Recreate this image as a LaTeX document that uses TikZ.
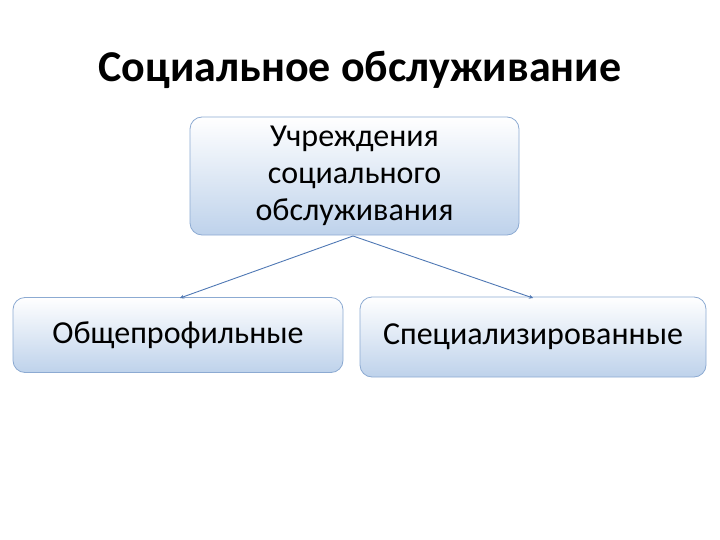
\documentclass[tikz,border=0pt]{standalone}
\usepackage{fontspec}
\setmainfont{Carlito}
\usetikzlibrary{arrows.meta}
\definecolor{edgeblue}{RGB}{140,170,210}
\definecolor{lineblue}{RGB}{79,120,180}
\definecolor{fillblue}{RGB}{190,210,235}
\tikzset{
 box/.style={draw=edgeblue, line width=0.8pt, rounded corners=12pt, top color=white, bottom color=fillblue, inner sep=0pt, align=center, font=\fontsize{32}{37}\selectfont},
 conn/.style={draw=lineblue, line width=0.9pt, -{Stealth[length=4pt,width=4pt]}}
}
\begin{document}
\begin{tikzpicture}[x=1pt,y=-1pt]
\useasboundingbox (0,0) rectangle (720,540);
\node[font=\bfseries\fontsize{44}{50}\selectfont] (title) at (360,70) {Социальное обслуживание};
\node[box, minimum width=329pt, minimum height=118pt] (top) at (354.5,176) {Учреждения\\социального\\обслуживания};
\node[box, minimum width=330pt, minimum height=75pt] (left) at (178,335) {Общепрофильные};
\node[box, minimum width=346pt, minimum height=80pt] (right) at (533,337) {Специализированные};
\coordinate (src) at (353,236);
\coordinate (lt) at (180,298);
\coordinate (rt) at (533,298);
\draw[conn] (src) -- (lt);
\draw[conn] (src) -- (rt);
\end{tikzpicture}
\end{document}
